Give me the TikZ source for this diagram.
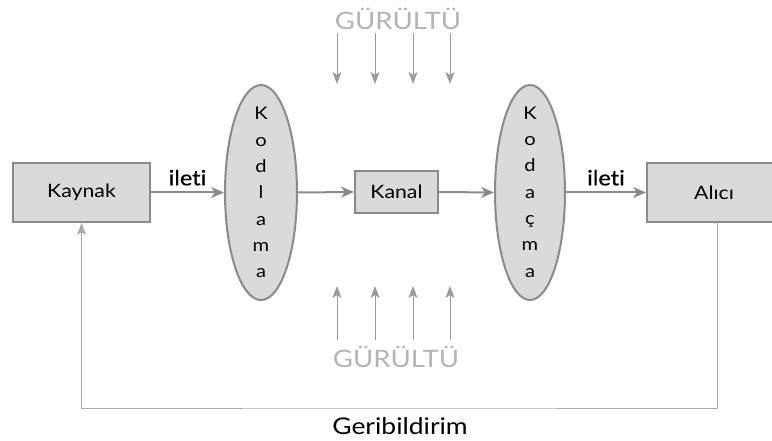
\documentclass[tikz,border=0pt]{standalone}
\usepackage{fontspec}
\setmainfont{Lato}[Ligatures=NoCommon,FakeStretch=1.15]
\newfontfamily\iletifont{Lato}[Ligatures=NoCommon,FakeStretch=1.12,FakeBold=0.7]
\usetikzlibrary{shapes.geometric,arrows.meta,calc}
\definecolor{boxfill}{HTML}{DADADA}
\definecolor{boxline}{HTML}{8A8A8A}
\definecolor{noisecol}{HTML}{9A9A9A}
\definecolor{noisetext}{HTML}{B4B4B4}
\definecolor{fbcol}{HTML}{A8A8A8}
\tikzset{
  blockbox/.style={draw=boxline,fill=boxfill,line width=2pt,inner sep=0pt,font=\fontsize{18.5}{20}\selectfont},
  codeell/.style={ellipse,draw=boxline,fill=boxfill,line width=2pt,inner sep=0pt,minimum width=72pt,minimum height=215pt},
  codetext/.style={align=center,inner sep=0pt,font=\fontsize{17.5}{26.3}\selectfont},
  mainarrow/.style={draw=boxline,line width=2pt,-{Stealth[length=13pt,width=11pt,inset=4pt]}},
  noisearrow/.style={draw=noisecol,line width=1pt,-{Stealth[length=12pt,width=9pt,inset=3pt]}},
  fbarrow/.style={draw=fbcol,line width=1pt,-{Stealth[length=12pt,width=9pt,inset=3pt]}},
  lbl/.style={font=\fontsize{23}{26}\selectfont,inner sep=0pt},
  iletilbl/.style={font=\fontsize{21}{24}\iletifont,inner sep=0pt},
  noiselbl/.style={font=\fontsize{24}{26}\selectfont,text=noisetext,inner sep=0pt},
}
\begin{document}
\begin{tikzpicture}[x=1pt,y=-1pt]
\useasboundingbox (0,0) rectangle (772,441);
\begin{scope}
\clip (0,0) rectangle (772,441);
\node[blockbox,minimum width=137pt,minimum height=59pt] (kaynak) at (81.5,192.5) {Kaynak};
\node[codeell] (kodlama) at (261,192.5) {};
\node[codetext] (kodlamatxt) at (261,192.5) {K\\o\\d\\l\\a\\m\\a};
\node[blockbox,minimum width=83pt,minimum height=42pt] (kanal) at (396.5,192) {Kanal};
\node[codeell,minimum width=70pt] (kodacma) at (530,192.5) {};
\node[codetext] (kodacmatxt) at (530,192) {K\\o\\d\\a\\ç\\m\\a};
\node[blockbox,minimum width=140pt,minimum height=59pt] (alici) at (717,192.5) {\hspace*{-6pt}Alıcı};
\end{scope}

\draw[mainarrow] (kaynak.east) -- (kodlama.west) node[iletilbl,midway,above=6pt] (ileti1) {ileti};
\draw[mainarrow] (kodlama.east) -- (kanal.west);
\draw[mainarrow] (kanal.east) -- (kodacma.west);
\draw[mainarrow] (kodacma.east) -- (alici.west) node[iletilbl,midway,above=6pt] (ileti2) {ileti};

\coordinate (fb) at (400,408);
\draw[fbarrow] (alici.south) |- (fb) -| (kaynak.south);
\node[lbl] (geri) at (400,426.5) {Geribildirim};

\node[noiselbl] (gtop) at (398,19) {GÜRÜLTÜ};
\node[noiselbl] (gbot) at (396,357) {GÜRÜLTÜ};
\foreach \i/\x in {1/337,2/375,3/413,4/450}{
  \coordinate (ts\i) at (\x,33);
  \coordinate (te\i) at (\x,84);
  \draw[noisearrow] (ts\i) -- (te\i);
  \coordinate (bs\i) at (\x,340);
  \coordinate (be\i) at (\x,286);
  \draw[noisearrow] (bs\i) -- (be\i);
}
\end{tikzpicture}
\end{document}
